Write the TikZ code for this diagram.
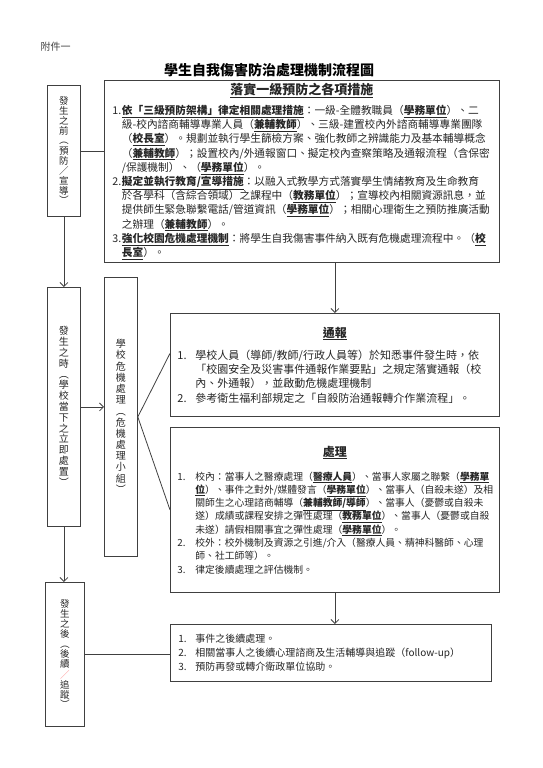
\documentclass[tikz,border=0pt]{standalone}
\usepackage{fontspec}
\setmainfont{Noto Sans CJK TC}
\usepackage{graphicx}
\usepackage{tikz}
\usetikzlibrary{arrows.meta}
\setlength{\parindent}{0pt}
\newcommand{\ulb}[1]{\underline{\textbf{#1}}}
\newcommand{\numbox}[2]{\makebox[#1][l]{#2}}
\newcommand{\vopen}{\rotatebox[origin=c]{-90}{（}}
\newcommand{\vclose}{\rotatebox[origin=c]{-90}{）}}

\begin{document}
\begin{tikzpicture}[
    x=1pt, y=1pt,
    box/.style={rectangle, draw=black!75, line width=0.8pt, anchor=north west, inner sep=0pt},
    stage/.style={box, align=center, text=black!85},
    panel/.style={box, align=left, text=black!85},
    link/.style={draw=black!75, line width=0.8pt},
    arrow/.style={link, -{Straight Barb[length=4pt, width=8pt]}},
]
    \useasboundingbox (0,0) rectangle (543,-768);

    % Headings
    \node[anchor=west, text=black!75, font=\fontsize{10}{12}\selectfont] (annex) at (37,-47) {附件一};
    \node[font=\fontsize{14}{16}\selectfont\bfseries] (title) at (269,-70) {學生自我傷害防治處理機制流程圖};

    % Stages (left column)
    \node[stage, minimum width=33pt, minimum height=131pt, font=\fontsize{9.5}{10}\selectfont] (before) at (47,-85) {發\\生\\之\\前\\\vopen\\預\\防\\／\\宣\\導\\\vclose};
    \node[stage, minimum width=33pt, minimum height=239pt, font=\fontsize{10}{10.8}\selectfont] (during) at (47,-287) {發\\生\\之\\時\\\vopen\\學\\校\\當\\下\\之\\立\\即\\處\\置\\\vclose};
    \node[stage, minimum width=33pt, minimum height=279pt, font=\fontsize{10}{11.2}\selectfont] (crisis) at (104,-277) {學\\校\\危\\機\\處\\理\\\vopen\\危\\機\\處\\理\\小\\組\\\vclose};
    \node[stage, minimum width=39pt, minimum height=144pt, font=\fontsize{9.5}{10.1}\selectfont] (after) at (45,-582) {發\\生\\之\\後\\\vopen\\後\\續\\\textcolor{red!45}{／}\\追\\蹤\\\vclose};

    % Measures
    \node[panel, minimum width=395pt, minimum height=182pt, text width=379pt, font=\fontsize{10.7}{14.2}\selectfont] (prevent) at (104,-80) {%
    \centerline{\fontsize{13}{15}\selectfont\ulb{落實一級預防之各項措施}}\vskip5.8pt
    \numbox{9.5pt}{1.}\ulb{依「三級預防架構」律定相關處理措施}：一級-全體教職員（\ulb{學務單位}）、二\\
    \hspace*{9.5pt}級-校內諮商輔導專業人員（\ulb{兼輔教師}）、三級-建置校內外諮商輔導專業團隊\\
    \hspace*{9.5pt}（\ulb{校長室}）。規劃並執行學生篩檢方案、強化教師之辨識能力及基本輔導概念\\
    \hspace*{9.5pt}（\ulb{兼輔教師}）；設置校內/外通報窗口、擬定校內查察策略及通報流程（含保密\\
    \hspace*{9.5pt}/保護機制）、（\ulb{學務單位}）。\\
    \numbox{9.5pt}{2.}\ulb{擬定並執行教育/宣導措施}：以融入式教學方式落實學生情緒教育及生命教育\\
    \hspace*{9.5pt}於各學科（含綜合領域）之課程中（\ulb{教務單位}）；宣導校內相關資源訊息，並\\
    \hspace*{9.5pt}提供師生緊急聯繫電話/管道資訊（\ulb{學務單位}）；相關心理衛生之預防推廣活動\\
    \hspace*{9.5pt}之辦理（\ulb{兼輔教師}）。\\
    \numbox{9.5pt}{3.}\ulb{強化校園危機處理機制}：將學生自我傷害事件納入既有危機處理流程中。（\ulb{校}\\
    \hspace*{9.5pt}\ulb{長室}）。};

    \node[panel, minimum width=329pt, minimum height=103pt, text width=315pt, font=\fontsize{11}{14.3}\selectfont] (report) at (170,-313) {%
    \centerline{\fontsize{12}{14}\selectfont\ulb{通報}}\vskip7.7pt
    \numbox{18pt}{1.}學校人員（導師/教師/行政人員等）於知悉事件發生時，依\\
    \hspace*{18pt}「校園安全及災害事件通報作業要點」之規定落實通報（校\\
    \hspace*{18pt}內、外通報），並啟動危機處理機制\\
    \numbox{18pt}{2.}參考衛生福利部規定之「自殺防治通報轉介作業流程」。};

    \node[panel, minimum width=329pt, minimum height=165pt, text width=315pt, font=\fontsize{9.8}{13.3}\selectfont] (handle) at (170,-427) {%
    \centerline{\fontsize{12}{14}\selectfont\ulb{處理}}\vskip10.7pt
    \numbox{18pt}{1.}校內：當事人之醫療處理（\ulb{醫療人員}）、當事人家屬之聯繫（\ulb{學務單}\\
    \hspace*{18pt}\ulb{位}）、事件之對外/媒體發言（\ulb{學務單位}）、當事人（自殺未遂）及相\\
    \hspace*{18pt}關師生之心理諮商輔導（\ulb{兼輔教師/導師}）、當事人（憂鬱或自殺未\\
    \hspace*{18pt}遂）成績或課程安排之彈性處理（\ulb{教務單位}）、當事人（憂鬱或自殺\\
    \hspace*{18pt}未遂）請假相關事宜之彈性處理（\ulb{學務單位}）。\\
    \numbox{18pt}{2.}校外：校外機制及資源之引進/介入（醫療人員、精神科醫師、心理\\
    \hspace*{18pt}師、社工師等）。\\
    \numbox{18pt}{3.}律定後續處理之評估機制。};

    \node[panel, minimum width=321pt, minimum height=57pt, text width=305pt, font=\fontsize{10}{14}\selectfont] (follow) at (170,-624) {%
    \numbox{17pt}{1.}事件之後續處理。\\
    \numbox{17pt}{2.}相關當事人之後續心理諮商及生活輔導與追蹤（follow-up）\\
    \numbox{17pt}{3.}預防再發或轉介衛政單位協助。\vskip9pt};

    % Connectors
    \draw[link] (before.east) -- (before.east -| prevent.west);
    \draw[arrow] (before.south) -- (during.north);
    \draw[arrow] (during.east) -- (during.east -| crisis.west);
    \draw[link] (crisis.east) -- ([yshift=11.5pt]report.west);
    \draw[link] (crisis.east) -- (handle.west);
    \draw[arrow] (prevent.south -| report.north) -- (report.north);
    \draw[arrow] (handle.south) -- (handle.south |- follow.north);
    \draw[arrow] (during.south) -- (during.south |- after.north);
    \draw[link] (after.east) -- (after.east -| follow.west);
\end{tikzpicture}
\end{document}
